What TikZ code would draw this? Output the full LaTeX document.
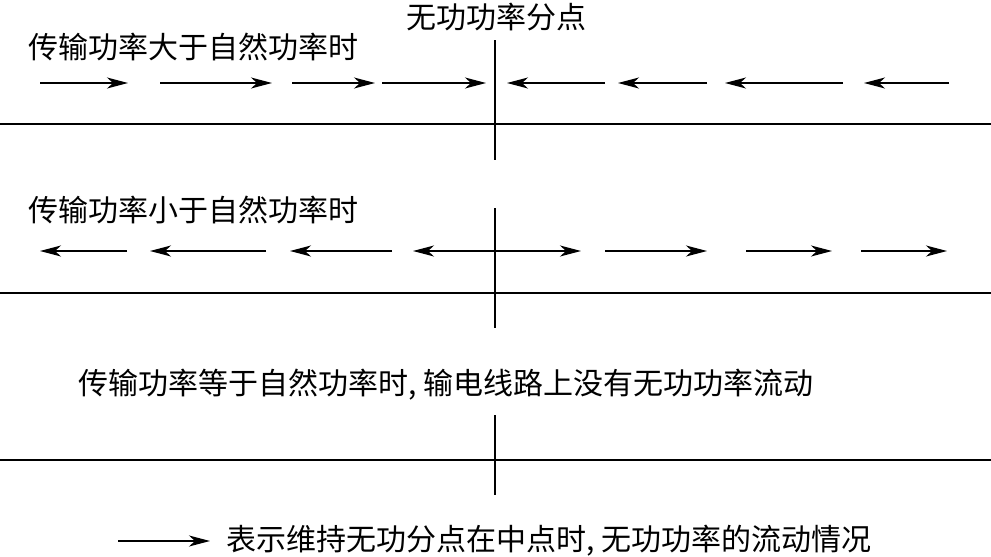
\documentclass[tikz,border=0pt]{standalone}
\usepackage{fontspec}
\newfontfamily\cjk{Noto Sans CJK SC}
\usetikzlibrary{arrows.meta}
\tikzset{
  flow/.style={line width=1.3pt,-{Stealth[length=21pt,width=11pt,inset=6pt]}},
  line/.style={line width=2pt},
  split/.style={line width=2.6pt},
  lbl/.style={inner sep=0pt,anchor=west}
}
\begin{document}
\begin{tikzpicture}[x=1pt,y=-1pt,font=\cjk\fontsize{30}{34}\selectfont]
  \useasboundingbox (0,0) rectangle (991,557);
  \node[inner sep=0pt] (title) at (496,17) {无功功率分点};
  % 传输功率大于自然功率
  \node[lbl] (above) at (28,47) {传输功率大于自然功率时};
  \foreach \a/\b in {40/128,160/272,292/375,382/486} {
    \draw[flow] (\a,83) -- (\b,83);
  }
  \foreach \a/\b in {605/507,707/618,843/725,949/864} {
    \draw[flow] (\a,83) -- (\b,83);
  }
  \draw[line] (0,124) -- (991,124);
  \draw[split] (495,40) -- (495,160);
  % 传输功率小于自然功率
  \node[lbl] (below) at (28,210) {传输功率小于自然功率时};
  \foreach \a/\b in {127/40,266/150,392/290,495/413} {
    \draw[flow] (\a,251) -- (\b,251);
  }
  \foreach \a/\b in {495/581,605/707,746/832,861/947} {
    \draw[flow] (\a,251) -- (\b,251);
  }
  \draw[line] (0,293) -- (991,293);
  \draw[split] (495,208) -- (495,328);
  % 传输功率等于自然功率
  \node[lbl] (equal) at (78,385) {传输功率等于自然功率时, 输电线路上没有无功功率流动};
  \draw[line] (0,460) -- (991,460);
  \draw[split] (495,415) -- (495,495);
  % 图例
  \draw[flow] (118,541) -- (210,541);
  \node[lbl] (legend) at (226,541) {表示维持无功分点在中点时, 无功功率的流动情况};
\end{tikzpicture}
\end{document}
